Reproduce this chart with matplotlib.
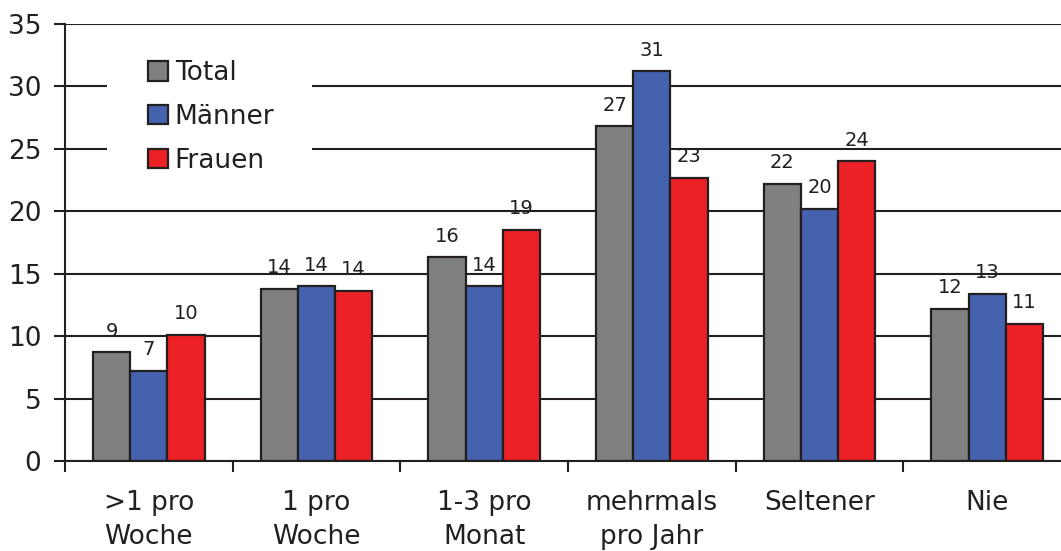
import matplotlib
matplotlib.use("Agg")
import matplotlib.pyplot as plt
from matplotlib.patches import Rectangle
import numpy as np

categories = [">1 pro\nWoche", "1 pro\nWoche", "1-3 pro\nMonat", "mehrmals\npro Jahr", "Seltener", "Nie"]
series_names = ["Total", "Männer", "Frauen"]
total = [8.7, 13.8, 16.3, 26.8, 22.2, 12.2]
maenner = [7.2, 14.0, 14.0, 31.2, 20.2, 13.4]
frauen = [10.1, 13.6, 18.5, 22.7, 24.0, 11.0]
labels_total = ["9", "14", "16", "27", "22", "12"]
labels_maenner = ["7", "14", "14", "31", "20", "13"]
labels_frauen = ["10", "14", "19", "23", "24", "11"]
yticks = [0, 5, 10, 15, 20, 25, 30, 35]

colors = ["#808080", "#4462AE", "#EC2126"]
ink = "#231F20"

plt.rcParams['font.family'] = ['DejaVu Sans']
W, H = 1061, 551
fig = plt.figure(figsize=(W / 100, H / 100), dpi=100)
ax = fig.add_axes([65 / W, 1 - 461 / H, (1071 - 65) / W, (461 - 24) / H])

x = np.arange(len(categories))
bw = 0.222
data = [total, maenner, frauen]
labs = [labels_total, labels_maenner, labels_frauen]
for i, (vals, lab) in enumerate(zip(data, labs)):
    xs = x + (i - 1) * bw
    ax.bar(xs, vals, width=bw, color=colors[i], edgecolor=ink,
           linewidth=1.6, zorder=3, label=series_names[i])
    for xx, v, t in zip(xs, vals, lab):
        ax.annotate(t, (xx, v), xytext=(0, 11.3), textcoords="offset points",
                    ha="center", va="baseline", fontsize=14, color=ink, zorder=5)

ax.set_xlim(-0.5, len(categories) - 0.5)
ax.set_ylim(0, 35)
ax.set_yticks(yticks)
ax.set_yticklabels([str(t) for t in yticks])
ax.yaxis.grid(True, color=ink, linewidth=1.5, zorder=0)
ax.set_axisbelow(True)

ax.set_xticks(np.arange(len(categories) + 1) - 0.5)
ax.set_xticklabels([])
ax.set_xticks(x, minor=True)
ax.set_xticklabels(categories, minor=True, fontsize=19, color=ink, linespacing=1.4)
ax.tick_params(axis="x", which="major", direction="out", length=8, width=1.5, color=ink)
ax.tick_params(axis="x", which="minor", length=0, pad=21)
ax.tick_params(axis="y", direction="out", length=8, width=1.5, color=ink,
               labelsize=19, labelcolor=ink, pad=9)

for s in ["top", "right"]:
    ax.spines[s].set_visible(False)
for s in ["left", "bottom"]:
    ax.spines[s].set_color(ink)
    ax.spines[s].set_linewidth(1.5)
    ax.spines[s].set_zorder(4)

# white background behind the legend (interrupts grid lines)
ax.add_patch(Rectangle((0.0417, 0.61), 0.2038, 0.35, transform=ax.transAxes,
                       facecolor="white", edgecolor="none", zorder=1))

leg = ax.legend(loc="upper left", bbox_to_anchor=(148 / W, 1 - 60 / H),
                bbox_transform=fig.transFigure, fontsize=19, frameon=False,
                borderpad=0, handlelength=0.76, handleheight=0.76,
                handletextpad=0.25, labelspacing=0.68, borderaxespad=0)
leg.set_zorder(6)
for t in leg.get_texts():
    t.set_color(ink)
for p in leg.get_patches():
    p.set_linewidth(1.6)

fig.savefig("out.png", dpi=100)
